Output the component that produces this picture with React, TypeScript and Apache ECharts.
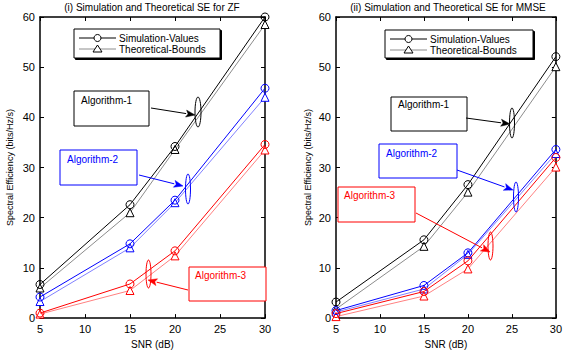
import React, { useEffect, useRef } from "react";
import * as echarts from "echarts";

const SNR = [5, 15, 20, 30];
const X_TICKS = [5, 10, 15, 20, 25, 30];

// (i) ZF
const zfSim1 = [6.7, 22.6, 34.2, 60.0];
const zfThe1 = [6.0, 21.0, 33.6, 58.5];
const zfSim2 = [4.2, 14.8, 23.5, 45.8];
const zfThe2 = [3.3, 14.0, 23.0, 44.0];
const zfSim3 = [1.0, 6.8, 13.4, 34.6];
const zfThe3 = [0.8, 5.5, 12.4, 33.5];

// (ii) MMSE
const mmSim1 = [3.2, 15.6, 26.6, 52.1];
const mmThe1 = [1.8, 14.3, 25.1, 50.1];
const mmSim2 = [1.5, 6.5, 13.0, 33.6];
const mmThe2 = [1.2, 5.8, 12.7, 32.8];
const mmSim3 = [0.9, 5.3, 11.4, 32.0];
const mmThe3 = [0.3, 4.4, 9.8, 30.1];

const TITLES = [
  "(i) Simulation and Theoretical SE for ZF",
  "(ii) Simulation and Theoretical SE for MMSE",
];
const LEGEND_NAMES = ["Simulation-Values", "Theoretical-Bounds"];
const ALG_NAMES = ["Algorithm-1", "Algorithm-2", "Algorithm-3"];
const Y_NAME = "Spectral Efficiency (bits/Hz/s)";
const X_NAME = "SNR (dB)";

const SIM_COLORS = ["#000000", "#0000ff", "#ff0000"];
const THE_COLORS = ["#8c8c8c", "#8080ff", "#ff8080"];

const FONT = "Liberation Sans, Arial, sans-serif";

function pairs(vals: number[]) {
  return SNR.map((x, i) => [x, vals[i]]);
}

function arrow(x1: number, y1: number, x2: number, y2: number, color: string) {
  const a = Math.atan2(y2 - y1, x2 - x1);
  const L = 9, W = 3.5;
  const bx = x2 - L * Math.cos(a), by = y2 - L * Math.sin(a);
  const px = -Math.sin(a) * W, py = Math.cos(a) * W;
  return [
    { type: "line", shape: { x1, y1, x2: bx, y2: by }, style: { stroke: color, lineWidth: 1 }, z: 100 },
    {
      type: "polygon",
      shape: { points: [[x2, y2], [bx + px, by + py], [bx + 2, by + 0], [bx - px, by - py]].map((p, i) => i === 2 ? [bx + 2 * Math.cos(a), by + 2 * Math.sin(a)] : p) },
      style: { fill: color, stroke: color, lineWidth: 0.5 },
      z: 100,
    },
  ];
}

function box(x: number, y: number, w: number, h: number, color: string, label: string, tx: number, ty: number) {
  return [
    { type: "rect", shape: { x, y, width: w, height: h }, style: { fill: "#fff", stroke: color, lineWidth: 1 }, z: 100 },
    {
      type: "text",
      x: tx,
      y: ty,
      style: { text: label, fill: color, font: `10px ${FONT}`, verticalAlign: "middle", align: "left" },
      z: 101,
    },
  ];
}

function ellipse(cx: number, cy: number, rx: number, ry: number, color: string) {
  return { type: "ellipse", shape: { cx, cy, rx, ry }, style: { fill: "none", stroke: color, lineWidth: 1 }, z: 100 };
}

function legend(x: number, y: number, w: number, h: number) {
  const lx1 = x + 5, lx2 = x + 42, mx = (lx1 + lx2) / 2;
  const y1 = y + 9, y2 = y + 20;
  return [
    { type: "rect", shape: { x: x + 1.5, y: y + 1.5, width: w, height: h }, style: { fill: "#000", stroke: "#000", lineWidth: 1 }, z: 99 },
    { type: "rect", shape: { x, y, width: w, height: h }, style: { fill: "#fff", stroke: "#000", lineWidth: 1 }, z: 100 },
    { type: "line", shape: { x1: lx1, y1, x2: lx2, y2: y1 }, style: { stroke: "#000", lineWidth: 1 }, z: 101 },
    { type: "circle", shape: { cx: mx, cy: y1, r: 3.5 }, style: { fill: "#fff", stroke: "#000", lineWidth: 1 }, z: 102 },
    { type: "line", shape: { x1: lx1, y1: y2, x2: lx2, y2: y2 }, style: { stroke: "#8c8c8c", lineWidth: 1 }, z: 101 },
    { type: "polygon", shape: { points: [[mx, y2 - 4], [mx - 4.5, y2 + 3], [mx + 4.5, y2 + 3]] }, style: { fill: "#fff", stroke: "#000", lineWidth: 1 }, z: 102 },
    { type: "text", x: lx2 + 3, y: y1, style: { text: LEGEND_NAMES[0], fill: "#000", font: `10px ${FONT}`, verticalAlign: "middle" }, z: 102 },
    { type: "text", x: lx2 + 3, y: y2, style: { text: LEGEND_NAMES[1], fill: "#000", font: `10px ${FONT}`, verticalAlign: "middle" }, z: 102 },
  ];
}

export default function App() {
  const ref = useRef<HTMLDivElement>(null);
  useEffect(() => {
    if (!ref.current) return;
    const chart = echarts.init(ref.current, null, { renderer: "svg" });

    const grids = [
      { left: 40, right: 300, top: 17, bottom: 26 },
      { left: 336, right: 4, top: 17, bottom: 26 },
    ];
    const axisLine = { show: true, onZero: false, lineStyle: { color: "#000", width: 1.5 } };
    const tick = { show: true, inside: true, length: 4, lineStyle: { color: "#000", width: 1 } };

    const xAxis: any[] = [];
    const yAxis: any[] = [];
    grids.forEach((_, gi) => {
      xAxis.push({
        type: "value", gridIndex: gi, min: 5, max: 30, interval: 5, position: "bottom",
        axisLine, axisTick: tick, splitLine: { show: false },
        axisLabel: { color: "#000", fontSize: 11, fontFamily: FONT, margin: 5 },
        name: X_NAME, nameLocation: "middle", nameGap: 18,
        nameTextStyle: { color: "#000", fontSize: 10, fontFamily: FONT },
      });
      xAxis.push({
        type: "value", gridIndex: gi, min: 5, max: 30, interval: 5, position: "top",
        axisLine, axisTick: tick, splitLine: { show: false }, axisLabel: { show: false },
      });
      yAxis.push({
        type: "value", gridIndex: gi, min: 0, max: 60, interval: 10, position: "left",
        axisLine, axisTick: tick, splitLine: { show: false },
        axisLabel: { color: "#000", fontSize: 11, fontFamily: FONT, margin: 5 },
        name: Y_NAME, nameLocation: "middle", nameGap: gi === 0 ? 26 : 24, nameRotate: 90,
        nameTextStyle: { color: "#000", fontSize: 9, fontFamily: FONT },
      });
      yAxis.push({
        type: "value", gridIndex: gi, min: 0, max: 60, interval: 10, position: "right",
        axisLine, axisTick: tick, splitLine: { show: false }, axisLabel: { show: false },
      });
    });

    const sets = [
      { sims: [zfSim1, zfSim2, zfSim3], thes: [zfThe1, zfThe2, zfThe3] },
      { sims: [mmSim1, mmSim2, mmSim3], thes: [mmThe1, mmThe2, mmThe3] },
    ];
    const series: any[] = [];
    sets.forEach((s, gi) => {
      [0, 1, 2].forEach((k) => {
        series.push({
          type: "line", name: `${ALG_NAMES[k]} theory ${gi}`,
          xAxisIndex: gi * 2, yAxisIndex: gi * 2,
          data: pairs(s.thes[k]), symbol: "triangle", symbolSize: 8, showAllSymbol: true,
          lineStyle: { color: THE_COLORS[k], width: 1 },
          itemStyle: { color: "#fff", borderColor: SIM_COLORS[k], borderWidth: 1 },
          z: 2 + k,
        });
        series.push({
          type: "line", name: `${ALG_NAMES[k]} sim ${gi}`,
          xAxisIndex: gi * 2, yAxisIndex: gi * 2,
          data: pairs(s.sims[k]), symbol: "circle", symbolSize: 8, showAllSymbol: true,
          lineStyle: { color: SIM_COLORS[k], width: 1 },
          itemStyle: { color: "rgba(255,255,255,0)", borderColor: SIM_COLORS[k], borderWidth: 1 },
          z: 5 + k,
        });
      });
    });

    const graphic: any[] = [
      ...legend(74, 29, 146, 29),
      ...legend(385, 30, 148, 28),
      // Left plot annotations
      ...box(74, 91, 75, 35, "#000", ALG_NAMES[0], 81, 100),
      ...arrow(151, 108, 195, 115, "#000"),
      ellipse(198, 112, 3, 15, "#000"),
      ...box(60, 150, 77, 35, "#0000ff", ALG_NAMES[1], 67, 159),
      ...arrow(139, 175, 183, 186, "#0000ff"),
      ellipse(188, 189, 2.5, 15, "#0000ff"),
      ...box(189, 267, 77, 34, "#ff0000", ALG_NAMES[2], 195, 275),
      ...arrow(188, 290, 148, 280, "#ff0000"),
      ellipse(148.5, 274, 2.5, 14, "#ff0000"),
      // Right plot annotations
      ...box(391, 97, 76, 34, "#000", ALG_NAMES[0], 398, 104),
      ...arrow(466, 118, 510, 124, "#000"),
      ellipse(512, 123, 2.5, 15, "#000"),
      ...box(379, 144, 78, 34, "#0000ff", ALG_NAMES[1], 386, 153),
      ...arrow(457, 170, 513, 190, "#0000ff"),
      ellipse(516, 197, 2.5, 15, "#0000ff"),
      ...box(338, 187, 77, 35, "#ff0000", ALG_NAMES[2], 344, 195),
      ...arrow(416, 213, 490, 252, "#ff0000"),
      ellipse(490.5, 246, 2.5, 14, "#ff0000"),
      // Titles
      { type: "text", x: 152, y: 7, style: { text: TITLES[0], fill: "#000", font: `10px ${FONT}`, align: "center", verticalAlign: "middle" }, z: 100 },
      { type: "text", x: 448, y: 7, style: { text: TITLES[1], fill: "#000", font: `10px ${FONT}`, align: "center", verticalAlign: "middle" }, z: 100 },
    ];

    chart.setOption({
      animation: false,
      backgroundColor: "#fff",
      grid: grids,
      xAxis,
      yAxis,
      series,
      graphic,
    });
    return () => chart.dispose();
  }, []);
  return <div ref={ref} style={{ width: 565, height: 354, position: "absolute", left: 0, top: 0 }} />;
}
